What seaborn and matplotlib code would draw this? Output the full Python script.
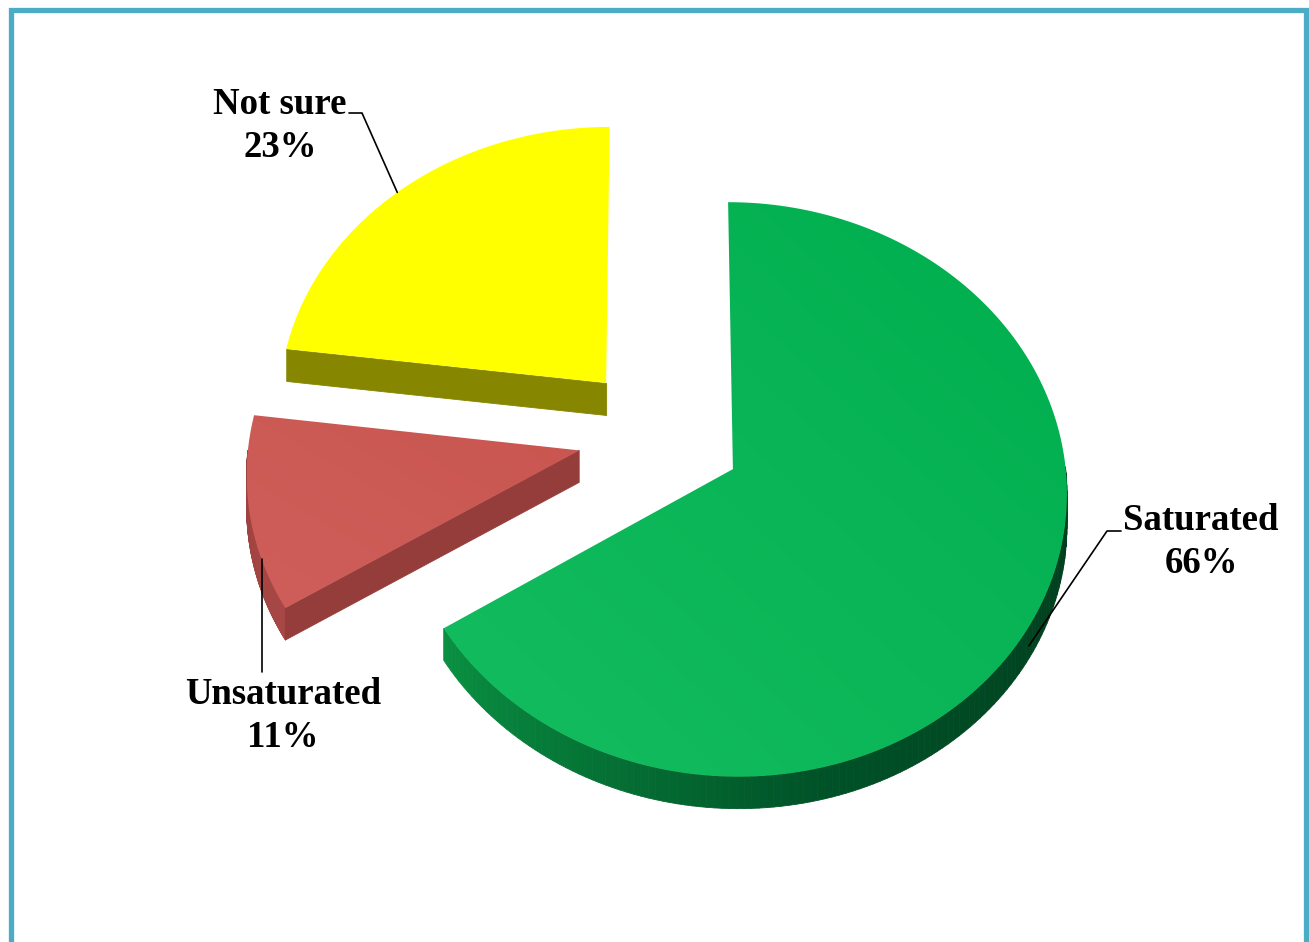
import numpy as np
import matplotlib
matplotlib.use("Agg")
import matplotlib.pyplot as plt
import seaborn as sns
from matplotlib.patches import Polygon
from matplotlib.collections import PolyCollection
from matplotlib.colors import to_rgb
from matplotlib.lines import Line2D

# ---- data -------------------------------------------------------------
categories = ["Saturated", "Unsaturated", "Not sure"]
shares = [66, 11, 23]

# ---- styling ----------------------------------------------------------
top_colors = {
    "Saturated": ("#14BD60", "#00AE4E"),
    "Unsaturated": ("#CF5E5B", "#C9564F"),
    "Not sure": ("#FFFF00", "#FFFF00"),
}
wall_colors = {
    "Saturated": ["#0A9343", "#005127", "#003B1C"],
    "Unsaturated": ["#A84846", "#983F3D"],
    "Not sure": ["#868600", "#868600"],
}
face_colors = {
    "Saturated": "#0A8F42",
    "Unsaturated": "#943D3B",
    "Not sure": "#868600",
}
explode = 0.25
W, H = 1309, 942
CX, CY = 660.0, 435.0      # projected centre of the pie
RX, RY = 330.0, 281.0      # ellipse radii
PERSP = 0.07               # perspective strength
DEPTH = 32.0               # extrusion depth in px

sns.set_theme(style="white")
plt.rcParams["font.family"] = ["Liberation Serif", "DejaVu Serif"]

fig = plt.figure(figsize=(W / 100, H / 100), dpi=100)
ax = fig.add_axes([0, 0, 1, 1])
ax.set_xlim(0, W)
ax.set_ylim(H, 0)
ax.axis("off")


def project(u, v, z=0.0):
    u = np.asarray(u, float)
    v = np.asarray(v, float)
    w = 1.0 - PERSP * v
    return CX + RX * u / w, CY + RY * v / w + z * DEPTH


def blend(stops, t):
    stops = [np.array(to_rgb(c)) for c in stops]
    t = np.clip(t, 0, 1) * (len(stops) - 1)
    i = min(int(t), len(stops) - 2)
    f = t - i
    return tuple(stops[i] * (1 - f) + stops[i + 1] * f)


def gradient_fill(poly_xy, c0, c1, zorder):
    patch = Polygon(poly_xy, closed=True, facecolor="none", edgecolor="none")
    ax.add_patch(patch)
    xs, ys = poly_xy[:, 0], poly_xy[:, 1]
    x0, x1, y0, y1 = xs.min(), xs.max(), ys.min(), ys.max()
    gx, gy = np.meshgrid(np.linspace(0, 1, 64), np.linspace(0, 1, 64))
    t = np.clip(((1 - gx) + gy) / 2.0, 0, 1)
    a, b = np.array(to_rgb(c1)), np.array(to_rgb(c0))
    img = a[None, None, :] * (1 - t[..., None]) + b[None, None, :] * t[..., None]
    im = ax.imshow(img, extent=(x0, x1, y1, y0), origin="upper",
                   interpolation="bilinear", zorder=zorder, aspect="auto")
    im.set_clip_path(patch)


# slices run clockwise from 12 o'clock
angles = []
start = 90.0
for s in shares:
    end = start - s * 3.6
    angles.append((start, end))
    start = end

slice_geo = {}
for cat, (t0, t1) in zip(categories, angles):
    mid = np.radians((t0 + t1) / 2)
    ou, ov = explode * np.cos(mid), -explode * np.sin(mid)
    th = np.radians(np.linspace(t0, t1, 200))
    slice_geo[cat] = (t0, t1, ou, ov, th)

draw_order = ["Not sure", "Unsaturated", "Saturated"]
for k, cat in enumerate(draw_order):
    t0, t1, ou, ov, th = slice_geo[cat]
    au, av = ou + np.cos(th), ov - np.sin(th)
    z0 = 10 + 3 * k
    quads, cols = [], []
    # outer wall (front-facing part of the rim)
    tx, ty = project(au, av)
    bx, by = project(au, av, 1.0)
    deg = np.degrees(th)
    lo, hi = deg.min(), deg.max()
    for i in range(len(th) - 1):
        if -np.sin((th[i] + th[i + 1]) / 2) > 0:
            quads.append([(tx[i], ty[i]), (tx[i + 1], ty[i + 1]),
                          (bx[i + 1], by[i + 1]), (bx[i], by[i])])
            tt = (hi - deg[i]) / (hi - lo) if hi > lo else 0
            if cat == "Saturated":
                tt = np.clip((-150 - deg[i]) / -150.0, 0, 1)
            cols.append(blend(wall_colors[cat], tt))
    # radial cut faces
    apx, apy = project(ou, ov)
    apbx, apby = project(ou, ov, 1.0)
    ts, te = np.radians(t0), np.radians(t1)
    if -np.cos(ts) > 0.01:
        quads.append([(apx, apy), (tx[0], ty[0]), (bx[0], by[0]), (apbx, apby)])
        cols.append(to_rgb(face_colors[cat]))
    if np.cos(te) > 0.01:
        quads.append([(apx, apy), (tx[-1], ty[-1]), (bx[-1], by[-1]), (apbx, apby)])
        cols.append(to_rgb(face_colors[cat]))
    if quads:
        ax.add_collection(PolyCollection(quads, facecolors=cols,
                                         edgecolors=cols, linewidths=0.6,
                                         zorder=z0))
    top = np.column_stack([np.r_[apx, tx], np.r_[apy, ty]])
    c0, c1 = top_colors[cat]
    gradient_fill(top, c0, c1, z0 + 1)


def rim_point(cat, ang, z=0.0):
    t0, t1, ou, ov, th = slice_geo[cat]
    a = np.radians(ang)
    x, y = project(ou + np.cos(a), ov - np.sin(a), z)
    return float(x), float(y)


label_font = dict(fontsize=26.5, fontweight="bold", color="black",
                  ha="center", va="center", linespacing=1.28, zorder=30)
values = dict(zip(categories, shares))

# Not sure
ax.text(280, 126, f"Not sure\n{values['Not sure']}%", **label_font)
px, py = rim_point("Not sure", 133)
ax.add_line(Line2D([349, 362, px], [113, 113, py], color="black", lw=1.2, zorder=31))

# Saturated
ax.text(1201, 542, f"Saturated\n{values['Saturated']}%", **label_font)
px, py = rim_point("Saturated", -32, 0.6)
ax.add_line(Line2D([1121, 1107, px], [531, 531, py], color="black", lw=1.2, zorder=31))

# Unsaturated
ax.text(283, 716, f"Unsaturated\n{values['Unsaturated']}%", **label_font)
px, py = rim_point("Unsaturated", 202)
ax.add_line(Line2D([px, px], [672, py], color="black", lw=1.2, zorder=31))

# frame (open at the bottom)
frame = "#4BACC6"
ax.add_line(Line2D([10.5, 10.5, 1305.5, 1305.5], [H + 5, 9.5, 9.5, H + 5],
                   color=frame, lw=3.8, solid_joinstyle="miter", zorder=40))

fig.savefig("out.png", dpi=100, facecolor="white")
